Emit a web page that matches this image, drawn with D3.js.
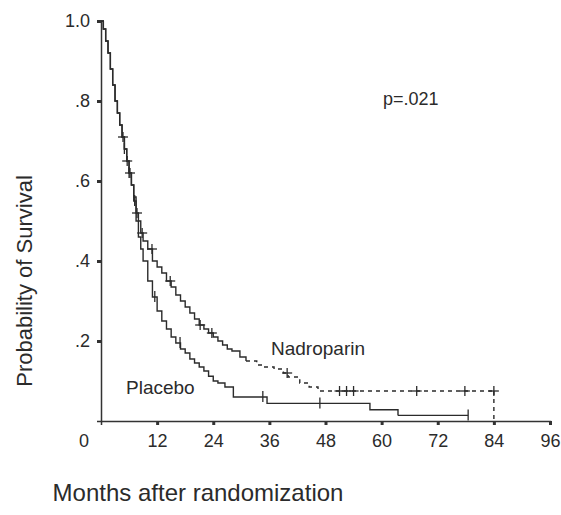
<!DOCTYPE html>
<html>
<head>
<meta charset="utf-8">
<script src="https://cdn.jsdelivr.net/npm/d3@7"></script>
<style>
  body { margin: 0; background: #fff; }
  svg text { font-family: "Liberation Sans", Arial, sans-serif; fill: #2b2b2b; }
  .curve { fill: none; stroke: #2b2b2b; stroke-width: 1.4; }
  .censor { stroke: #2b2b2b; stroke-width: 1.3; }
</style>
</head>
<body>
<svg id="chart" width="561" height="515"></svg>
<script>
// Kaplan-Meier steps (months, survival)
const placeboTime = [0, 0.5, 1, 1.5, 2, 2.5, 3, 3.5, 4, 4.5, 5, 5.5, 6, 6.5, 7, 7.5, 8, 8.5, 9, 10, 11, 12, 13, 14, 15, 16, 17, 18, 19, 20, 21, 22, 23, 24, 25, 26.5, 28.3, 35.5, 57.5, 63.5];
const placeboSurv = [1.0, 0.98, 0.95, 0.92, 0.88, 0.84, 0.80, 0.77, 0.74, 0.71, 0.68, 0.65, 0.62, 0.59, 0.55, 0.50, 0.46, 0.43, 0.40, 0.35, 0.31, 0.275, 0.25, 0.23, 0.21, 0.195, 0.18, 0.17, 0.155, 0.145, 0.135, 0.125, 0.112, 0.10, 0.095, 0.085, 0.06, 0.044, 0.028, 0.014];
// last (lighter) stretch of the placebo curve
const placeboTailTime = [63.5, 78.5];
const placeboTailSurv = [0.014, 0.014];

const nadroTime = [0, 0.5, 1, 1.5, 2, 2.5, 3, 3.5, 4, 4.5, 5, 5.5, 6, 6.5, 7, 7.5, 8, 8.5, 9, 10, 11, 12, 13, 14, 15, 16, 17, 18, 19, 20, 21, 22, 23, 24, 25, 26, 27, 28, 29.7, 31];
const nadroSurv = [1.0, 0.98, 0.95, 0.92, 0.88, 0.84, 0.80, 0.77, 0.74, 0.71, 0.68, 0.65, 0.62, 0.59, 0.56, 0.52, 0.50, 0.47, 0.45, 0.43, 0.40, 0.385, 0.37, 0.35, 0.335, 0.315, 0.30, 0.285, 0.27, 0.255, 0.24, 0.23, 0.22, 0.21, 0.20, 0.19, 0.18, 0.175, 0.16, 0.15];
// dashed tail of the nadroparin curve
const nadroTailTime = [31, 33.3, 35, 37, 39, 40, 42.5, 44.5, 46.4, 84];
const nadroTailSurv = [0.15, 0.14, 0.135, 0.13, 0.12, 0.11, 0.095, 0.085, 0.075, 0.075];

// censored observations (months)
const nadroCensored = [4.7, 5.6, 6.2, 7.7, 8.8, 10.9, 14.8, 21.2, 23.7, 39.8, 51, 52.5, 54, 67.5, 77.8, 84];
const placeboCensored = [5.0, 6.0, 7.2, 11.5, 16.9, 34.6, 46.8, 78.5];

const xTicks = [12, 24, 36, 48, 60, 72, 84, 96];
const yTicks = [0.2, 0.4, 0.6, 0.8, 1.0];
const yTickLabels = ['.2', '.4', '.6', '.8', '1.0'];

const svg = d3.select('#chart');

const x = d3.scaleLinear().domain([0, 96]).range([101, 550]);
const y = d3.scaleLinear().domain([0, 1]).range([421, 21]);

const toPts = (ts, ss) => ts.map((t, i) => [t, ss[i]]);
const line = d3.line().x(d => x(d[0])).y(d => y(d[1])).curve(d3.curveStepAfter);

// survival value at time t on a step curve
const survAt = (ts, ss, t) => ss[Math.max(0, d3.bisectRight(ts, t) - 1)];

// Axes
const xAxis = svg.append('g')
  .attr('transform', `translate(0,${y(0)})`)
  .call(d3.axisBottom(x).tickValues(xTicks).tickSize(4).tickPadding(9));
const yAxis = svg.append('g')
  .attr('transform', `translate(${x(0)},0)`)
  .call(d3.axisLeft(y).tickValues(yTicks).tickFormat((d, i) => yTickLabels[i]).tickSize(4).tickPadding(7));

[xAxis, yAxis].forEach(g => {
  g.select('.domain').attr('stroke', '#333').attr('stroke-width', 1.5);
  g.selectAll('.tick line').attr('stroke', '#333').attr('stroke-width', 3);
  g.selectAll('.tick text').style('font-size', '18px').attr('fill', '#2b2b2b');
});

svg.append('text')
  .attr('x', x(0) - 17).attr('y', y(0) + 26)
  .attr('text-anchor', 'middle')
  .style('font-size', '18px')
  .text('0');

// Curves
svg.append('path').attr('class', 'curve').attr('d', line(toPts(placeboTime, placeboSurv)));
svg.append('path').attr('class', 'curve').attr('stroke', '#9a9a9a')
  .attr('d', line(toPts(placeboTailTime, placeboTailSurv)));
svg.append('path').attr('class', 'curve').attr('d', line(toPts(nadroTime, nadroSurv)));
svg.append('path').attr('class', 'curve')
  .attr('stroke-dasharray', '4,4')
  .attr('d', line(toPts(nadroTailTime, nadroTailSurv)));
// dashed drop at the last follow-up
svg.append('line').attr('class', 'curve')
  .attr('stroke-dasharray', '4,4')
  .attr('x1', x(84)).attr('x2', x(84))
  .attr('y1', y(0.075)).attr('y2', y(0));

// Censor marks
const allNadroT = nadroTime.concat(nadroTailTime.slice(1));
const allNadroS = nadroSurv.concat(nadroTailSurv.slice(1));
const allPlaceboT = placeboTime.concat(placeboTailTime.slice(1));
const allPlaceboS = placeboSurv.concat(placeboTailSurv.slice(1));

const marks = svg.append('g');
nadroCensored.forEach(t => {
  const cx = x(t), cy = y(survAt(allNadroT, allNadroS, t));
  marks.append('line').attr('class', 'censor').attr('x1', cx - 5).attr('x2', cx + 5).attr('y1', cy).attr('y2', cy);
  marks.append('line').attr('class', 'censor').attr('x1', cx).attr('x2', cx).attr('y1', cy - 5).attr('y2', cy + 5);
});
placeboCensored.forEach(t => {
  const cx = x(t), cy = y(survAt(allPlaceboT, allPlaceboS, t));
  marks.append('line').attr('class', 'censor').attr('x1', cx).attr('x2', cx).attr('y1', cy - 6).attr('y2', cy + 5);
});

// Labels
svg.append('text').attr('x', 383).attr('y', 105).style('font-size', '18px').text('p=.021');
svg.append('text').attr('x', 271).attr('y', 355).style('font-size', '19px').text('Nadroparin');
svg.append('text').attr('x', 126).attr('y', 394).style('font-size', '19px').text('Placebo');

svg.append('text')
  .attr('transform', 'translate(32,281) rotate(-90)')
  .attr('text-anchor', 'middle')
  .style('font-size', '22px')
  .text('Probability of Survival');

svg.append('text')
  .attr('x', 198).attr('y', 501)
  .attr('text-anchor', 'middle')
  .style('font-size', '24px')
  .text('Months after randomization');
</script>
</body>
</html>
